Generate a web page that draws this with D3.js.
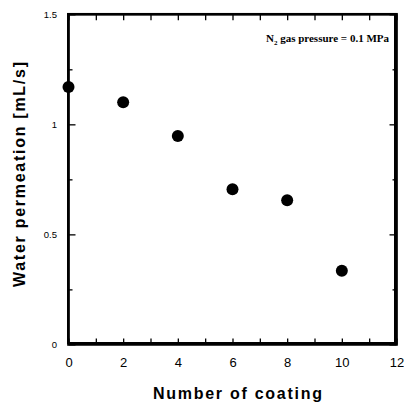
<!DOCTYPE html>
<html>
<head>
<meta charset="utf-8">
<script src="https://cdn.jsdelivr.net/npm/d3@7"></script>
<style>
  body { margin: 0; background: white; }
  #chart { position: relative; width: 404px; height: 404px; }
  svg { display: block; position: absolute; left: 0; top: 0; }
</style>
</head>
<body>
<div id="chart"></div>
<script>
// data
const coatings = [0, 2, 4, 6, 8, 10];
const permeation = [1.17, 1.10, 0.947, 0.705, 0.655, 0.335];

const xTickValues = d3.range(0, 13, 1);
const yMajorTicks = [0, 0.5, 1, 1.5];
const yMinorTicks = [0.25, 0.75, 1.25];

const width = 404, height = 404;
const plotLeft = 68.5, plotRight = 396.5, plotTop = 14.3, plotBottom = 344.4;
const frameW = 2.7;

const x = d3.scaleLinear().domain([0, 12]).range([plotLeft, plotRight]);
const y = d3.scaleLinear().domain([0, 1.5]).range([plotBottom, plotTop]);

// plot frame as a bordered box under the svg
d3.select('#chart').append('div')
  .style('position', 'absolute')
  .style('left', (x(0) - frameW / 2) + 'px')
  .style('top', (y(1.5) - frameW / 2) + 'px')
  .style('width', (x(12) - x(0) - frameW) + 'px')
  .style('height', (y(0) - y(1.5) - frameW) + 'px')
  .style('border', frameW + 'px solid black');

const svg = d3.select('#chart')
  .append('svg')
  .attr('width', width)
  .attr('height', height);

// inward ticks, no domain line
function styleAxis(g, fontSize) {
  g.select('.domain').remove();
  g.selectAll('.tick line').attr('stroke', 'black').attr('stroke-width', 1.3);
  g.selectAll('.tick text')
    .attr('fill', 'black')
    .style('font-family', '"Liberation Sans", Arial, sans-serif')
    .style('font-size', fontSize + 'px');
}

svg.append('g')
  .attr('transform', `translate(0,${plotBottom})`)
  .call(d3.axisBottom(x).tickValues(xTickValues).tickSize(-6).tickPadding(13)
    .tickFormat(d => d % 2 === 0 ? d : ''))
  .call(g => styleAxis(g, 13));

svg.append('g')
  .attr('transform', `translate(0,${plotTop})`)
  .call(d3.axisTop(x).tickValues(xTickValues).tickSize(-6).tickFormat(''))
  .call(g => styleAxis(g, 13));

svg.append('g')
  .attr('transform', `translate(${plotLeft},0)`)
  .call(d3.axisLeft(y).tickValues(yMajorTicks).tickSize(-7).tickPadding(11.5)
    .tickFormat(d3.format('')))
  .call(g => styleAxis(g, 9.5));

svg.append('g')
  .attr('transform', `translate(${plotLeft},0)`)
  .call(d3.axisLeft(y).tickValues(yMinorTicks).tickSize(-4).tickFormat(''))
  .call(g => styleAxis(g, 9.5));

svg.append('g')
  .attr('transform', `translate(${plotRight},0)`)
  .call(d3.axisRight(y).tickValues(yMajorTicks).tickSize(-7).tickFormat(''))
  .call(g => styleAxis(g, 9.5));

svg.append('g')
  .attr('transform', `translate(${plotRight},0)`)
  .call(d3.axisRight(y).tickValues(yMinorTicks).tickSize(-4).tickFormat(''))
  .call(g => styleAxis(g, 9.5));

// frame in the svg too
svg.append('rect')
  .attr('x', plotLeft)
  .attr('y', plotTop)
  .attr('width', plotRight - plotLeft)
  .attr('height', plotBottom - plotTop)
  .attr('fill', 'none')
  .attr('stroke', 'black')
  .attr('stroke-width', frameW);

// points
svg.selectAll('circle')
  .data(permeation)
  .enter().append('circle')
    .attr('cx', (d, i) => x(coatings[i]))
    .attr('cy', d => y(d))
    .attr('r', 6)
    .attr('fill', 'black');

// axis titles
svg.append('text')
  .attr('x', 153)
  .attr('y', 399)
  .attr('textLength', 169)
  .attr('lengthAdjust', 'spacing')
  .style('font-family', '"Liberation Sans", Arial, sans-serif')
  .style('font-size', '16px')
  .style('font-weight', 'bold')
  .text('Number of coating');

svg.append('text')
  .attr('transform', 'translate(25,287) rotate(-90)')
  .attr('textLength', 225)
  .attr('lengthAdjust', 'spacing')
  .style('font-family', '"Liberation Sans", Arial, sans-serif')
  .style('font-size', '16px')
  .style('font-weight', 'bold')
  .text('Water permeation [mL/s]');

// annotation
const note = svg.append('text')
  .attr('x', 389)
  .attr('y', 42)
  .attr('text-anchor', 'end')
  .style('font-family', '"Liberation Serif", "Times New Roman", serif')
  .style('font-size', '11px')
  .style('font-weight', 'bold');
note.append('tspan').text('N');
note.append('tspan').attr('dy', 3).style('font-size', '7px').text('2');
note.append('tspan').attr('dy', -3).text(' gas pressure = 0.1 MPa');
</script>
</body>
</html>
